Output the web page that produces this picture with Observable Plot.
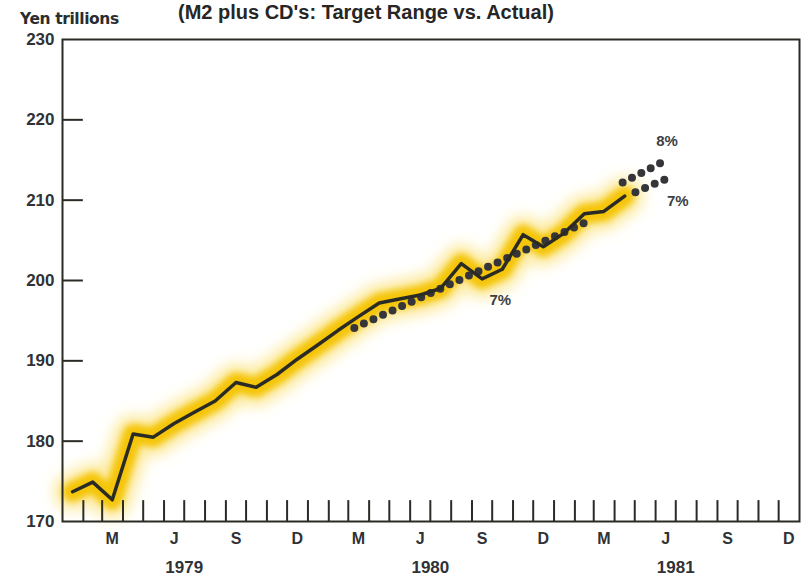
<!DOCTYPE html>
<html>
<head>
<meta charset="utf-8">
<script src="https://cdn.jsdelivr.net/npm/d3@7"></script>
<script src="https://cdn.jsdelivr.net/npm/@observablehq/plot@0.6"></script>
<style>
  html, body { margin: 0; padding: 0; background: #ffffff; }
  #wrap { position: relative; width: 801px; height: 581px; overflow: hidden; font-family: "Liberation Sans", Arial, sans-serif; }
  #title { position: absolute; left: 178px; top: 2px; font-size: 20px; font-weight: bold; color: #262626; white-space: nowrap; line-height: 20px; }
  #unit { position: absolute; left: 20px; top: 11px; font-family: "DejaVu Sans", sans-serif; font-size: 15.5px; font-weight: bold; color: #2a2d30; white-space: nowrap; line-height: 16px; letter-spacing: -0.4px; }
  svg text { font-weight: bold; }
</style>
</head>
<body>
<div id="wrap">
  <div id="title">(M2 plus CD's: Target Range vs. Actual)</div>
  <div id="unit">Yen trillions</div>
</div>
<script>
// ---- Data ----
const actualMonths = [
  "1979-01-16","1979-02-15","1979-03-16","1979-04-16","1979-05-16","1979-06-16",
  "1979-07-16","1979-08-16","1979-09-16","1979-10-16","1979-11-16","1979-12-16",
  "1980-01-16","1980-02-15","1980-03-16","1980-04-16","1980-05-16","1980-06-16",
  "1980-07-16","1980-08-16","1980-09-16","1980-10-16","1980-11-16","1980-12-16",
  "1981-01-16","1981-02-15","1981-03-16","1981-04-16"
];
const actualValues = [
  173.7, 174.9, 172.7, 180.9, 180.5, 182.2,
  183.6, 185.0, 187.3, 186.7, 188.3, 190.2,
  192.0, 193.8, 195.5, 197.2, 197.7, 198.2,
  199.0, 202.1, 200.2, 201.4, 205.7, 204.2,
  205.9, 208.3, 208.6, 210.5
];

// Target path 1980 (7%)
const target80Dates = ["1980-03-10", "1981-02-21"];
const target80Values = [194.1, 207.4];
// Target range 1981: upper (8%) and lower (7%)
const upper81Dates = ["1981-04-13", "1981-06-15"];
const upper81Values = [212.2, 214.9];
const lower81Dates = ["1981-05-02", "1981-06-18"];
const lower81Values = [211.0, 212.7];

// Annotation labels
const noteTexts = ["7%", "8%", "7%"];
const noteDates = ["1980-10-13", "1981-06-18", "1981-07-04"];
const noteValues = [197.6, 217.4, 209.9];

// Axis labels
const yTicks = [170, 180, 190, 200, 210, 220, 230];
const monthLabels = ["M", "J", "S", "D", "M", "J", "S", "D", "M", "J", "S", "D"];
const monthLabelDates = [
  "1979-03-16","1979-06-16","1979-09-16","1979-12-16",
  "1980-03-16","1980-06-16","1980-09-16","1980-12-16",
  "1981-03-16","1981-06-16","1981-09-16","1981-12-16"
];
const yearLabels = ["1979", "1980", "1981"];
const yearLabelDates = ["1979-07-01", "1980-07-01", "1981-07-01"];

// ---- Build tables ----
const parse = s => new Date(s + "T00:00:00Z");
const actual = actualMonths.map((d, i) => ({date: parse(d), value: actualValues[i]}));
const toSeg = (ds, vs) => ds.map((d, i) => ({date: parse(d), value: vs[i]}));
const target80 = toSeg(target80Dates, target80Values);
const upper81 = toSeg(upper81Dates, upper81Values);
const lower81 = toSeg(lower81Dates, lower81Values);
const notes = noteTexts.map((t, i) => ({text: t, date: parse(noteDates[i]), value: noteValues[i]}));
const monthTicks = monthLabelDates.map(parse);
const monthLabelMap = new Map(monthTicks.map((d, i) => [+d, monthLabels[i]]));
const years = yearLabels.map((t, i) => ({text: t, date: parse(yearLabelDates[i])}));

const xStart = new Date(Date.UTC(1979, 0, 1));
const xEnd = new Date(Date.UTC(1982, 0, 1));
// month boundaries for inward x ticks
const boundaries = d3.utcMonth.range(new Date(Date.UTC(1979, 1, 1)), new Date(Date.UTC(1981, 11, 2)));
const innerY = yTicks.filter(v => v > 170 && v < 230);

const ink = "#2b2b26";
const dotStyle = {stroke: "#36363a", strokeWidth: 8, strokeLinecap: "round", strokeDasharray: "0 10.5"};

const chart = Plot.plot({
  width: 801,
  height: 581,
  marginLeft: 62,
  marginRight: 2,
  marginTop: 39,
  marginBottom: 60,
  style: {background: "transparent", color: "#2f3236", fontFamily: "'Liberation Sans', Arial, sans-serif"},
  x: {
    type: "utc",
    domain: [xStart, xEnd],
    ticks: monthTicks,
    tickFormat: d => monthLabelMap.get(+d) || "",
    tickSize: 0,
    tickPadding: 11,
    label: null
  },
  y: {
    domain: [170, 230],
    ticks: yTicks,
    tickSize: 0,
    tickPadding: 8,
    label: null
  },
  marks: [
    // yellow highlight behind the actual series
    Plot.line(actual, {x: "date", y: "value", stroke: "#f9d94c", strokeWidth: 38, strokeLinejoin: "round", strokeLinecap: "round", strokeOpacity: 0.55, ariaDescription: "glow-wide"}),
    Plot.line(actual, {x: "date", y: "value", stroke: "#f4c300", strokeWidth: 20, strokeLinejoin: "round", strokeLinecap: "round", strokeOpacity: 0.95, ariaDescription: "glow-core"}),
    // frame and inward ticks
    Plot.frame({stroke: ink, strokeWidth: 2}),
    Plot.ruleY(innerY, {y: d => d, x1: xStart, x2: new Date(Date.UTC(1979, 1, 1)), stroke: ink, strokeWidth: 2}),
    Plot.ruleX(boundaries, {x: d => d, y1: 170, y2: 172.6, stroke: ink, strokeWidth: 2}),
    // target paths (dotted)
    Plot.line(target80, {x: "date", y: "value", ...dotStyle}),
    Plot.line(upper81, {x: "date", y: "value", ...dotStyle}),
    Plot.line(lower81, {x: "date", y: "value", ...dotStyle}),
    // actual series
    Plot.line(actual, {x: "date", y: "value", stroke: ink, strokeWidth: 3.5, strokeLinejoin: "round"}),
    // annotations
    Plot.text(notes, {x: "date", y: "value", text: "text", fontSize: 15, fill: "#3c3f44"}),
    Plot.text(years, {x: "date", y: () => 170, text: "text", dy: 46, fontSize: 17, fill: "#2f3236"})
  ]
});

const svg = d3.select(chart);
// soft-edged highlighter effect via SVG blur filters
const defs = svg.insert("defs", ":first-child");
defs.append("filter").attr("id", "blurWide").attr("x", "-10%").attr("y", "-10%").attr("width", "120%").attr("height", "120%")
  .append("feGaussianBlur").attr("stdDeviation", 7);
defs.append("filter").attr("id", "blurCore").attr("x", "-10%").attr("y", "-10%").attr("width", "120%").attr("height", "120%")
  .append("feGaussianBlur").attr("stdDeviation", 3);
svg.selectAll('g[aria-description="glow-wide"]').attr("filter", "url(#blurWide)");
svg.selectAll('g[aria-description="glow-core"]').attr("filter", "url(#blurCore)");

// tick label font sizes
svg.selectAll('g[aria-label="y-axis"] text, g[aria-label="y-axis tick label"] text').attr("font-size", 17);
svg.selectAll('g[aria-label="x-axis"] text, g[aria-label="x-axis tick label"] text').attr("font-size", 16);
chart.style.position = "absolute";
chart.style.left = "0px";
chart.style.top = "0px";
document.getElementById("wrap").prepend(chart);
</script>
</body>
</html>
